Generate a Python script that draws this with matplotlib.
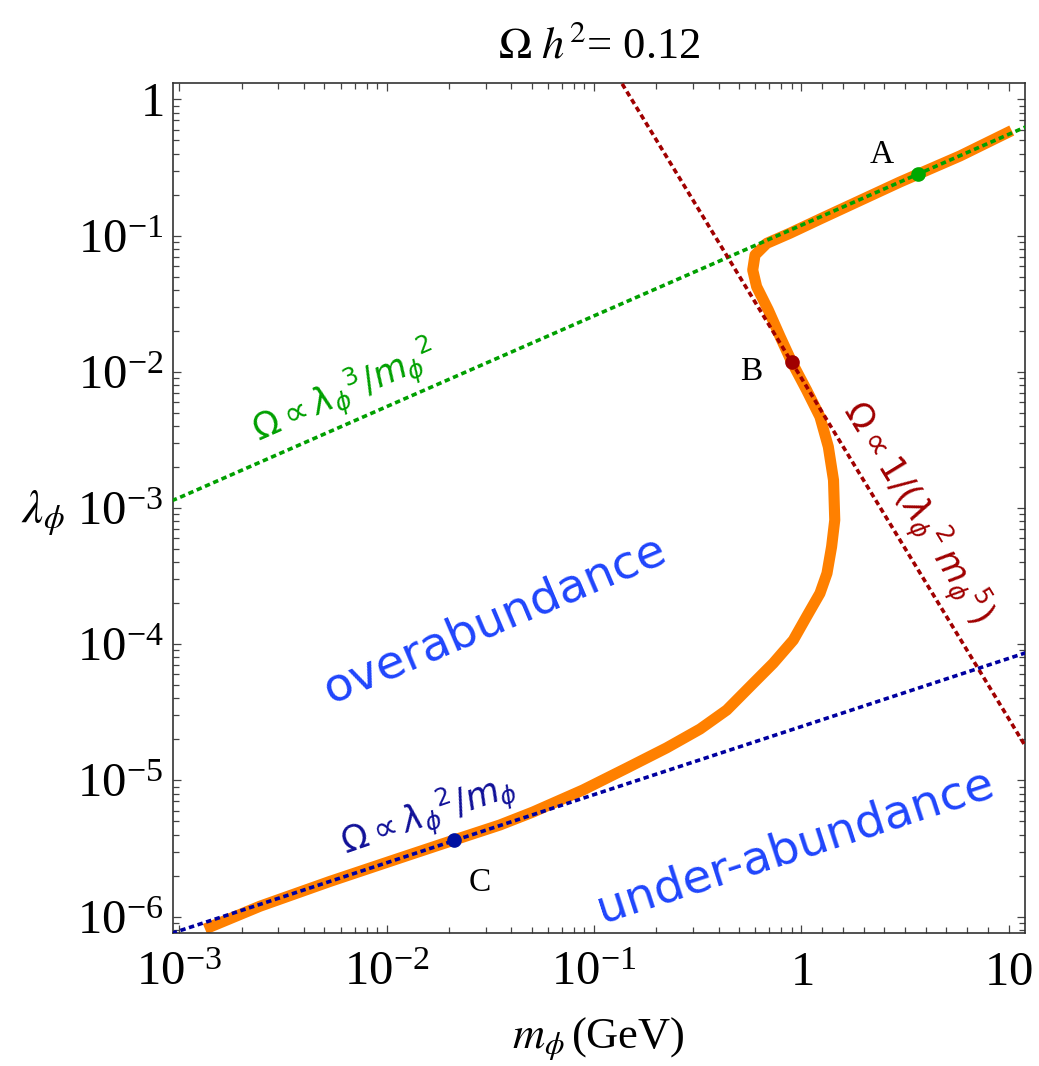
import matplotlib
matplotlib.use("Agg")
import matplotlib.pyplot as plt
from matplotlib.ticker import FixedLocator, NullFormatter
from matplotlib.transforms import ScaledTranslation

plt.rcParams['font.family'] = ['Liberation Serif', 'DejaVu Serif']
plt.rcParams['mathtext.fontset'] = 'stix'

# -------------------------
# Data
# -------------------------

# relic-density contour Omega h^2 = 0.12
orange_m = [1.33e-3, 2.45e-3, 5.33e-3, 0.0116, 0.0211, 0.0352, 0.0508, 0.0885,
            0.144, 0.224, 0.325, 0.437, 0.587, 0.732, 0.915, 1.06, 1.23, 1.33,
            1.40, 1.45, 1.43, 1.35, 1.23, 1.06, 0.899, 0.790, 0.693, 0.609,
            0.583, 0.598, 0.681, 0.882, 1.23, 2.99, 5.83, 10.35]
orange_lam = [8.09e-7, 1.19e-6, 1.81e-6, 2.69e-6, 3.64e-6, 4.70e-6, 5.85e-6, 8.49e-6,
              1.23e-5, 1.73e-5, 2.38e-5, 3.28e-5, 5.16e-5, 7.23e-5, 1.07e-4, 1.59e-4,
              2.36e-4, 3.31e-4, 5.19e-4, 8.15e-4, 1.60e-3, 2.81e-3, 4.67e-3, 7.34e-3,
              0.0118, 0.0181, 0.0284, 0.0421, 0.0558, 0.0719, 0.0876, 0.104, 0.132,
              0.247, 0.384, 0.590]

# asymptotic scaling lines
green_m = [9.2e-4, 1e-3, 1e-2, 0.1, 1, 10, 12.3]
green_lam = [1.13e-3, 1.19e-3, 5.54e-3, 0.0257, 0.119, 0.553, 0.635]
blue_m = [9.2e-4, 1e-3, 1e-2, 0.1, 1, 10, 12.3]
blue_lam = [7.53e-7, 7.85e-7, 2.48e-6, 7.85e-6, 2.48e-5, 7.85e-5, 8.71e-5]
red_m = [0.1, 1, 10, 12.3]
red_lam = [2.84, 9.0e-3, 2.84e-5, 1.69e-5]

# benchmark points
point_names = ['A', 'B', 'C']
point_m = [3.67, 0.899, 0.0211]
point_lam = [0.283, 0.0118, 3.64e-6]
point_colors = ['#00a800', '#a00000', '#0010a0']

x_major = [1e-3, 1e-2, 1e-1, 1, 10]
x_labels = [r'$\mathdefault{10^{-3}}$', r'$\mathdefault{10^{-2}}$', r'$\mathdefault{10^{-1}}$',
            r'$\mathdefault{1}$', r'$\mathdefault{10}$']
y_major = [1, 1e-1, 1e-2, 1e-3, 1e-4, 1e-5, 1e-6]
y_labels = [r'$\mathdefault{1}$', r'$\mathdefault{10^{-1}}$', r'$\mathdefault{10^{-2}}$',
            r'$\mathdefault{10^{-3}}$', r'$\mathdefault{10^{-4}}$', r'$\mathdefault{10^{-5}}$',
            r'$\mathdefault{10^{-6}}$']

# -------------------------
# Figure
# -------------------------

fig = plt.figure(figsize=(10.39, 10.66), dpi=100)
ax = fig.add_axes([0.1662, 0.1245, 0.8203, 0.7979])
ax.set_xscale('log')
ax.set_yscale('log')
ax.set_xlim(9.29e-4, 11.99)
ax.set_ylim(7.53e-7, 1.324)

dots = (0, (1.5, 1.0))
ax.plot(orange_m, orange_lam, color='#ff8000', lw=8, solid_capstyle='butt',
        solid_joinstyle='round', zorder=2)
ax.plot(green_m, green_lam, color='#00a000', lw=2.6, ls=dots, zorder=3)
ax.plot(red_m, red_lam, color='#a00000', lw=2.6, ls=dots, zorder=3)
ax.plot(blue_m, blue_lam, color='#0000a0', lw=2.6, ls=dots, zorder=3)
for m, lam, c in zip(point_m, point_lam, point_colors):
    ax.plot(m, lam, 'o', color=c, ms=9.5, zorder=4)

# point labels
ax.text(2.44, 0.390, point_names[0], ha='center', va='center', fontsize=24)
ax.text(0.576, 0.0100, point_names[1], ha='center', va='center', fontsize=24)
ax.text(0.0282, 1.76e-6, point_names[2], ha='center', va='center', fontsize=24)

# annotations
hand = dict(family='DejaVu Sans', math_fontfamily='dejavusans', ha='center', va='center',
            rotation_mode='anchor')
ax.text(6.30e-3, 6.97e-3, r'$\Omega \propto {\lambda_\phi}^3/{m_\phi}^2$', color='#00a000',
        fontsize=25, rotation=23.7, **hand)
ax.text(0.01585, 5.56e-6, r'$\Omega \propto {\lambda_\phi}^2/m_\phi$', color='#101098',
        fontsize=25, rotation=19, **hand)
ax.text(3.61, 9.33e-4, r'$\Omega \propto 1/({\lambda_\phi}^2\,{m_\phi}^5)$', color='#a00000',
        fontsize=25, rotation=-58.5, **hand)
ax.text(0.0333, 1.506e-4, 'overabundance', color='#1f45fc', fontsize=34, rotation=23, **hand)
ax.text(0.932, 3.29e-6, 'under-abundance', color='#1f45fc', fontsize=34, rotation=18, **hand)

# ticks
ax.xaxis.set_major_locator(FixedLocator(x_major))
x_minor = [k * 10.0 ** d for d in (-3, -2, -1) for k in range(2, 10)]
x_minor += [10 ** (k / 10) for k in range(1, 10)]
ax.xaxis.set_minor_locator(FixedLocator(x_minor))
ax.xaxis.set_minor_formatter(NullFormatter())
ax.yaxis.set_major_locator(FixedLocator(y_major))
y_minor = [k * 10.0 ** d for d in range(-7, 1) for k in range(2, 10)]
ax.yaxis.set_minor_locator(FixedLocator(y_minor))
ax.yaxis.set_minor_formatter(NullFormatter())

ax.tick_params(which='both', direction='in', top=True, right=True, width=0.9, color='#444444')
ax.tick_params(which='major', length=5.5)
ax.tick_params(which='minor', length=4)
ax.tick_params(axis='x', pad=37.2)
ax.tick_params(axis='y', pad=6.8)
ax.set_xticks(x_major, x_labels, fontsize=35, va='baseline')
ax.set_yticks(y_major, y_labels, fontsize=35, va='baseline')
ax.set_xlim(9.29e-4, 11.99)
ax.set_ylim(7.53e-7, 1.324)
shift = ScaledTranslation(0, -0.17, fig.dpi_scale_trans)
for lab in ax.get_yticklabels():
    lab.set_transform(lab.get_transform() + shift)

for sp in ax.spines.values():
    sp.set_linewidth(1.2)
    sp.set_color('#333333')

ax.set_title(r'$\Omega\ h^2$= 0.12', fontsize=32, pad=18.5)
ax.set_xlabel(r'$m_\phi\,$(GeV)', fontsize=32, va='baseline')
ax.xaxis.set_label_coords(0.5, -0.1348)
ax.set_ylabel(r'$\lambda_\phi$', fontsize=34, rotation=0, ha='right', va='baseline')
ax.yaxis.set_label_coords(-0.1264, 0.4824)

fig.savefig('out.png', dpi=100)
